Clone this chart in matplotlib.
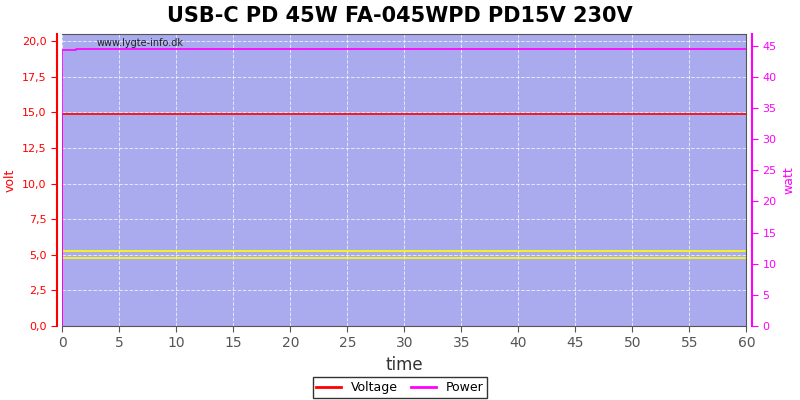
import matplotlib
matplotlib.use("Agg")
import matplotlib.pyplot as plt
from matplotlib.lines import Line2D

# data
volt_t = [0.0, 0.0, 6.7, 6.7, 60.0]
volt_v = [0.0, 14.86, 14.86, 14.91, 14.91]
power_t = [0.0, 0.0, 1.2, 1.2, 60.0]
power_w = [0.0, 44.35, 44.35, 44.55, 44.55]
limit_lines = [5.25, 4.75]

x_ticks = list(range(0, 61, 5))
volt_ticks = [0, 2.5, 5, 7.5, 10, 12.5, 15, 17.5, 20]
watt_ticks = list(range(0, 46, 5))

RED = "#ff0000"
MAG = "#ff00ff"
BG = "#aaaaee"

fig = plt.figure(figsize=(8, 4), dpi=100)
ax = fig.add_axes([0.078, 0.185, 0.855, 0.73])
ax.set_facecolor(BG)

for y in limit_lines:
    ax.axhline(y, color="#ffff00", lw=1.2, zorder=2)
ax.plot(volt_t, volt_v, color=RED, lw=1.2, zorder=4)

ax.set_xlim(0, 60)
ax.set_ylim(0, 20.5)
ax.set_xticks(x_ticks)
ax.set_yticks(volt_ticks)
ax.set_yticklabels([f"{v:.1f}".replace(".", ",") for v in volt_ticks])
ax.grid(True, color="white", ls="--", lw=0.7, alpha=0.7)
ax.set_axisbelow(True)

ax.tick_params(axis="x", colors="#555555", labelsize=10, length=4)
ax.tick_params(axis="y", colors=RED, labelsize=8, length=4, labelcolor=RED)
ax.set_xlabel("time", fontsize=12, color="#333333")
ax.set_ylabel("volt", fontsize=9, color=RED)
for s in ["top", "right", "bottom"]:
    ax.spines[s].set_color("#555555")
ax.spines["left"].set_color(RED)
ax.spines["left"].set_position(("outward", 4))
ax.spines["left"].set_linewidth(1.5)

ax2 = ax.twinx()
ax2.plot(power_t, power_w, color=MAG, lw=1.2, zorder=5)
ax2.set_ylim(0, 46.9)
ax2.set_yticks(watt_ticks)
ax2.tick_params(axis="y", colors=MAG, labelsize=8, length=4, labelcolor=MAG)
ax2.set_ylabel("watt", fontsize=9, color=MAG)
ax2.spines["right"].set_color(MAG)
ax2.spines["right"].set_position(("outward", 4))
ax2.spines["right"].set_linewidth(1.5)
ax2.spines["left"].set_visible(False)
ax2.spines["top"].set_visible(False)
ax2.spines["bottom"].set_visible(False)

ax.text(0.05, 0.985, "www.lygte-info.dk", transform=ax.transAxes,
        fontsize=7, color="#222222", va="top", ha="left")

fig.suptitle("USB-C PD 45W FA-045WPD PD15V 230V", fontsize=15,
             fontweight="bold", y=0.985)

handles = [Line2D([], [], color=RED, lw=2, label="Voltage"),
           Line2D([], [], color=MAG, lw=2, label="Power")]
fig.legend(handles=handles, loc="lower center", bbox_to_anchor=(0.5, -0.01),
           ncol=2, fontsize=9, frameon=True, fancybox=False,
           edgecolor="black", handlelength=2, columnspacing=1.0,
           borderpad=0.3)

fig.savefig("out.png", dpi=100)
